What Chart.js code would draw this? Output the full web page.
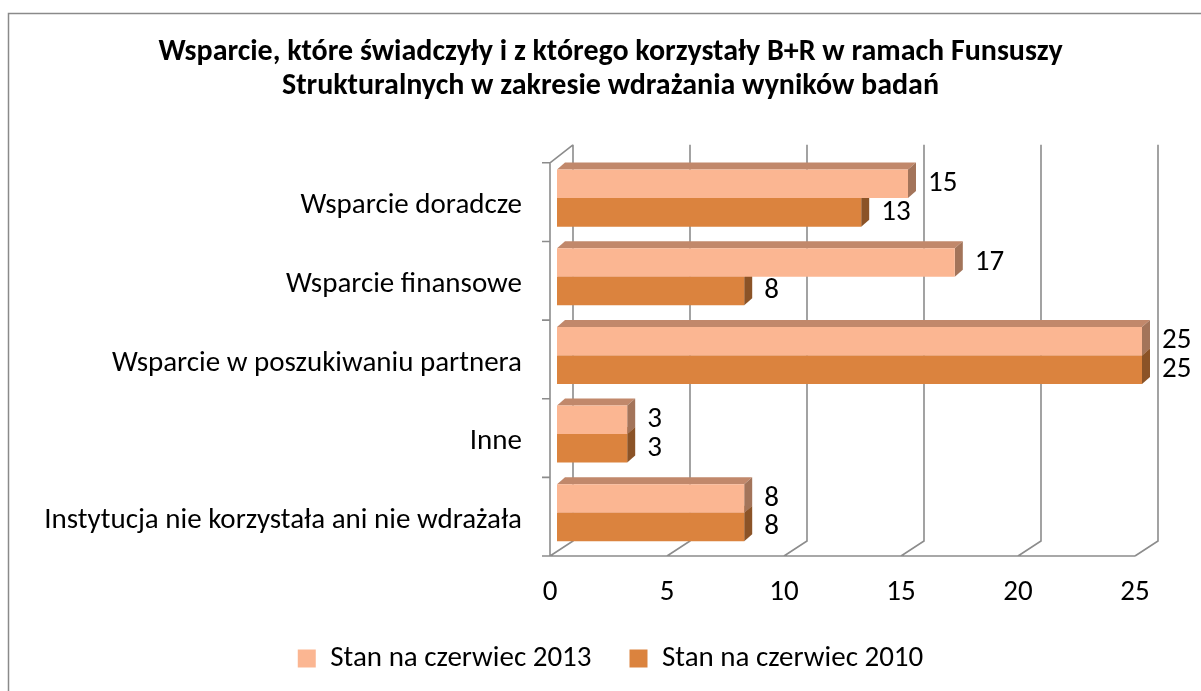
<!DOCTYPE html>
<html>
<head>
<meta charset="utf-8">
<script src="https://cdn.jsdelivr.net/npm/chart.js@4"></script>
<style>
  html, body { margin: 0; padding: 0; background: #fff; overflow: hidden; }
  #wrap { position: relative; width: 1201px; height: 691px; }
</style>
</head>
<body>
<div id="wrap"><canvas id="chart" width="1201" height="691"></canvas></div>
<script>
// chart data
const categories = [
    'Wsparcie doradcze',
    'Wsparcie finansowe',
    'Wsparcie w poszukiwaniu partnera',
    'Inne',
    'Instytucja nie korzystała ani nie wdrażała'
];
const stan2013 = [15, 17, 25, 3, 8];
const stan2010 = [13, 8, 25, 3, 8];
const xTicks = [0, 5, 10, 15, 20, 25];
const seriesNames = ['Stan na czerwiec 2013', 'Stan na czerwiec 2010'];

const FONT = 'Carlito, Lato, "Open Sans", sans-serif';
const GRID = '#8c8c8c';
const DEPTH = { dx: 8, dy: 7 };          // bar depth
const WALL = { dx: 16, dy: 14 };         // back wall offset

// front / top / side colours per series
const faces = [
    { front: '#fbb692', top: '#c1886b', side: '#a3745a' },
    { front: '#db833e', top: '#b06a33', side: '#8b5327' }
];

// 3D look: frame, floor, back grid, bar tops and sides, value labels
const bars3d = {
    id: 'bars3d',
    beforeDraw(chart) {
        const ctx = chart.ctx;
        ctx.save();
        ctx.strokeStyle = '#8a8a8a';
        ctx.lineWidth = 1.5;
        ctx.strokeRect(8.5, 13.5, 1400, 900);
        ctx.restore();
    },
    beforeDatasetsDraw(chart) {
        const ctx = chart.ctx;
        const x = chart.scales.x;
        const area = chart.chartArea;
        const backTop = area.top - WALL.dy;
        const backBottom = area.bottom - WALL.dy + 3;
        const floorY = area.bottom + 4;
        ctx.save();
        ctx.strokeStyle = GRID;
        ctx.lineWidth = 1.6;
        ctx.beginPath();
        xTicks.forEach(v => {
            const xb = x.getPixelForValue(v) + WALL.dx;
            const xf = x.getPixelForValue(v) - 7;
            ctx.moveTo(xb, backTop);
            ctx.lineTo(xb, backBottom);
            ctx.lineTo(xf, floorY);
        });
        // front floor edge
        ctx.moveTo(x.getPixelForValue(xTicks[0]) - 7, floorY);
        ctx.lineTo(x.getPixelForValue(xTicks[xTicks.length - 1]) - 7, floorY);
        // left axis with category ticks
        const axX = x.getPixelForValue(0) - 7;
        ctx.moveTo(axX, floorY);
        ctx.lineTo(axX, area.top + 4);
        ctx.lineTo(x.getPixelForValue(0) + WALL.dx, backTop);
        const step = (area.bottom - area.top) / categories.length;
        for (let i = 0; i <= categories.length; i++) {
            const ty = area.top + 4 + i * step;
            ctx.moveTo(axX - 8, ty);
            ctx.lineTo(axX, ty);
        }
        ctx.stroke();

        // tops and sides, lower series first
        [1, 0].forEach(di => {
            const meta = chart.getDatasetMeta(di);
            meta.data.forEach(bar => {
                const p = bar.getProps(['x', 'y', 'base', 'height'], true);
                const t = p.y - p.height / 2;
                const b = p.y + p.height / 2;
                ctx.fillStyle = faces[di].top;
                ctx.beginPath();
                ctx.moveTo(p.base, t);
                ctx.lineTo(p.base + DEPTH.dx, t - DEPTH.dy);
                ctx.lineTo(p.x + DEPTH.dx, t - DEPTH.dy);
                ctx.lineTo(p.x, t);
                ctx.closePath();
                ctx.fill();
                ctx.fillStyle = faces[di].side;
                ctx.beginPath();
                ctx.moveTo(p.x, t);
                ctx.lineTo(p.x + DEPTH.dx, t - DEPTH.dy);
                ctx.lineTo(p.x + DEPTH.dx, b - DEPTH.dy);
                ctx.lineTo(p.x, b);
                ctx.closePath();
                ctx.fill();
            });
        });
        ctx.restore();
    },
    afterDatasetsDraw(chart) {
        const ctx = chart.ctx;
        ctx.save();
        ctx.font = '29px ' + FONT;
        ctx.fillStyle = '#000';
        ctx.textAlign = 'left';
        ctx.textBaseline = 'middle';
        chart.data.datasets.forEach((ds, di) => {
            chart.getDatasetMeta(di).data.forEach((bar, i) => {
                const p = bar.getProps(['x', 'y'], true);
                ctx.fillText(String(ds.data[i]), p.x + DEPTH.dx + 12, p.y);
            });
        });
        ctx.restore();
    }
};

const ctx = document.getElementById('chart').getContext('2d');
const chart = new Chart(ctx, {
    type: 'bar',
    data: {
        labels: categories,
        datasets: [
            {
                label: seriesNames[0],
                data: stan2013,
                backgroundColor: faces[0].front,
                borderWidth: 0
            },
            {
                label: seriesNames[1],
                data: stan2010,
                backgroundColor: faces[1].front,
                borderWidth: 0
            }
        ]
    },
    plugins: [bars3d],
    options: {
        indexAxis: 'y',
        responsive: false,
        animation: false,
        categoryPercentage: 0.725,
        barPercentage: 1,
        layout: { padding: { left: 20, right: 0, top: 0, bottom: 8 } },
        plugins: {
            title: {
                display: true,
                text: [
                    'Wsparcie, które świadczyły i z którego korzystały B+R w ramach Funsuszy',
                    'Strukturalnych w zakresie wdrażania wyników badań'
                ],
                color: '#000',
                font: { family: FONT, size: 30, weight: 'bold', lineHeight: 1.13 },
                padding: { top: 36, bottom: 55 }
            },
            legend: {
                position: 'bottom',
                labels: {
                    color: '#000',
                    font: { family: FONT, size: 29 },
                    boxWidth: 18,
                    boxHeight: 18,
                    padding: 38
                }
            },
            tooltip: { enabled: false }
        },
        scales: {
            x: {
                min: 0,
                max: 25,
                afterBuildTicks: (scale) => { scale.ticks = xTicks.map(v => ({ value: v })); },
                afterFit: (scale) => { scale.height = 54; },
                grid: { display: false },
                border: { display: false },
                ticks: {
                    color: '#000',
                    font: { family: FONT, size: 29 },
                    padding: 15,
                    labelOffset: -7
                }
            },
            y: {
                afterFit: (scale) => { scale.width = 557 - 20; },
                grid: { display: false, drawTicks: false },
                border: { display: false },
                ticks: {
                    color: '#000',
                    font: { family: FONT, size: 29 },
                    padding: 35,
                    labelOffset: 8
                }
            },
            // empty right axis: room for the value labels
            yRight: {
                type: 'category',
                position: 'right',
                afterFit: (scale) => { scale.width = 59; },
                grid: { display: false },
                border: { display: false },
                ticks: { display: false }
            }
        }
    }
});
</script>
</body>
</html>
